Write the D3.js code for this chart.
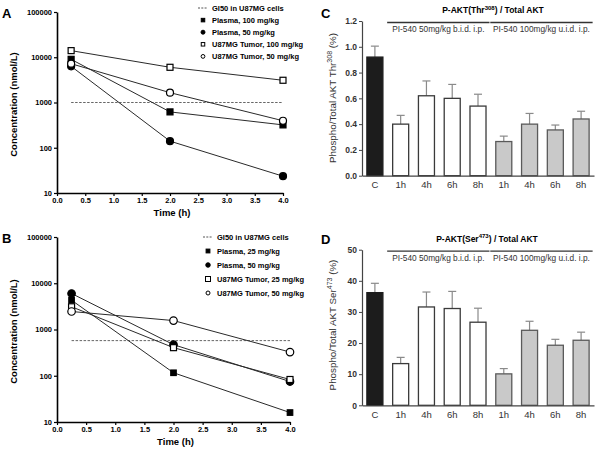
<!DOCTYPE html>
<html><head><meta charset="utf-8">
<script src="https://cdn.jsdelivr.net/npm/d3@7"></script>
<style>body{margin:0;background:#fff}svg{display:block;font-family:"Liberation Sans",Arial,sans-serif}</style>
</head><body>
<svg id="c" width="600" height="454"></svg>
<script>
// ---------- Data ----------
const timesPK = [0.25, 2.0, 4.0];
// Panel A
const aPlasma100 = [9000, 620, 320];
const aPlasma50 = [6300, 140, 23.5];
const aTumor100 = [14000, 6000, 3100];
const aTumor50 = [7200, 1650, 395];
const aGI50 = 1000;
const aLegend = ["GI50 in U87MG cells", "Plasma, 100 mg/kg", "Plasma, 50 mg/kg", "U87MG Tumor, 100 mg/kg", "U87MG Tumor, 50 mg/kg"];
// Panel B
const bPlasma25 = [4300, 116, 16];
const bPlasma50 = [6000, 470, 75];
const bTumor25 = [3100, 405, 83];
const bTumor50 = [2450, 1560, 325];
const bGI50 = 575;
const bLegend = ["GI50 in U87MG cells", "Plasma, 25 mg/kg", "Plasma, 50 mg/kg", "U87MG Tumor, 25 mg/kg", "U87MG Tumor, 50 mg/kg"];
const logTicks = [10, 100, 1000, 10000, 100000];
const timeTicks = [0, 0.5, 1, 1.5, 2, 2.5, 3, 3.5, 4];
// Panels C, D
const barCats = ["C", "1h", "4h", "6h", "8h", "1h", "4h", "6h", "8h"];
const barGroup = ["ctrl", "bid", "bid", "bid", "bid", "uid", "uid", "uid", "uid"];
const cValues = [0.92, 0.40, 0.62, 0.60, 0.54, 0.265, 0.40, 0.355, 0.44];
const cErrors = [0.085, 0.068, 0.115, 0.108, 0.092, 0.042, 0.083, 0.038, 0.06];
const dValues = [36.2, 13.4, 31.6, 31.1, 26.7, 10.1, 24.1, 19.3, 20.9];
const dErrors = [3.0, 2.0, 4.8, 5.5, 4.5, 1.7, 2.9, 1.9, 2.6];
const cTicks = [0, 0.2, 0.4, 0.6, 0.8, 1.0, 1.2];
const dTicks = [0, 10, 20, 30, 40, 50];
const groupLabels = ["PI-540 50mg/kg b.i.d. i.p.", "PI-540 100mg/kg u.i.d. i.p."];

const svg = d3.select("#c");

function letter(x, y, t) {
  svg.append("text").attr("x", x).attr("y", y).attr("font-size", 13).attr("font-weight", "bold").text(t);
}

function marker(g, type, x, y, size, sw) {
  sw = sw || 1.2;
  if (type === "fsq" || type === "osq") {
    g.append("rect").attr("x", x - size / 2).attr("y", y - size / 2).attr("width", size).attr("height", size)
      .attr("fill", type === "fsq" ? "#000" : "#fff").attr("stroke", "#000").attr("stroke-width", sw);
  } else {
    g.append("circle").attr("cx", x).attr("cy", y).attr("r", size / 2)
      .attr("fill", type === "fci" ? "#000" : "#fff").attr("stroke", "#000").attr("stroke-width", sw);
  }
}

function pkPanel(opt) {
  const g = svg.append("g");
  const x = d3.scaleLinear().domain([0, 4]).range([opt.x0, opt.x1]);
  const y = d3.scaleLog().domain([10, 100000]).range([opt.y0, opt.y1]);
  const yAx = g.append("g").attr("transform", `translate(${opt.x0},0)`)
    .call(d3.axisLeft(y).tickValues(logTicks).tickFormat(d3.format("d")).tickSize(3).tickSizeOuter(0));
  const xAx = g.append("g").attr("transform", `translate(0,${opt.y0})`)
    .call(d3.axisBottom(x).tickValues(timeTicks).tickFormat(d3.format(".1f")).tickSize(3).tickSizeOuter(0));
  [yAx, xAx].forEach(a => {
    a.select(".domain").attr("stroke-width", 1.6);
    a.selectAll("line").attr("stroke-width", 1.2);
    a.selectAll("text").attr("font-size", 7.5).attr("font-weight", "bold").attr("font-family", "Liberation Sans, Arial");
  });
  yAx.selectAll("text").attr("x", -5);
  xAx.selectAll("text").attr("y", 5);
  // GI50
  g.append("line").attr("x1", x(0.25)).attr("x2", x(4)).attr("y1", y(opt.gi50)).attr("y2", y(opt.gi50))
    .attr("stroke", "#666").attr("stroke-width", 1).attr("stroke-dasharray", "2.5,1.5");
  const line = d3.line().x((d, i) => x(timesPK[i])).y(d => y(d));
  opt.series.forEach(s => {
    g.append("path").attr("d", line(s.v)).attr("fill", "none").attr("stroke", "#2a2a2a").attr("stroke-width", 1);
  });
  opt.series.forEach(s => {
    s.v.forEach((d, i) => marker(g, s.type, x(timesPK[i]), y(d), s.size));
  });
  // axis titles
  g.append("text").attr("x", (opt.x0 + opt.x1) / 2 + 2).attr("y", opt.y0 + 23).attr("text-anchor", "middle")
    .attr("font-size", 9.5).attr("font-weight", "bold").text("Time (h)");
  g.append("text").attr("transform", `translate(17,${(opt.y0 + opt.y1) / 2 + 2}) rotate(-90)`).attr("text-anchor", "middle")
    .attr("font-size", 9.5).attr("font-weight", "bold").text("Concentration (nmol/L)");
  // legend
  const lg = g.append("g");
  opt.legend.forEach((t, i) => {
    const ly = opt.ly + i * opt.ldy;
    if (i === 0) {
      lg.append("line").attr("x1", opt.lx - 5).attr("x2", opt.lx + 4).attr("y1", ly).attr("y2", ly)
        .attr("stroke", "#555").attr("stroke-dasharray", "2,1.3");
    } else {
      marker(lg, opt.series[i - 1].type, opt.lx, ly, opt.series[i - 1].lsize, 1);
    }
    lg.append("text").attr("x", opt.lx + opt.ltx).attr("y", ly + 2.8).attr("font-size", 7.5).attr("font-weight", "bold").text(t);
  });
}

pkPanel({
  x0: 57, x1: 283, y0: 193, y1: 12, gi50: aGI50, legend: aLegend, lx: 203, ly: 8, ldy: 12.1, ltx: 9,
  series: [
    {v: aPlasma100, type: "fsq", size: 6, lsize: 3.5},
    {v: aPlasma50, type: "fci", size: 7, lsize: 4},
    {v: aTumor100, type: "osq", size: 6, lsize: 3.5},
    {v: aTumor50, type: "oci", size: 7, lsize: 3.8}
  ]
});
pkPanel({
  x0: 57, x1: 290, y0: 422, y1: 237, gi50: bGI50, legend: bLegend, lx: 208, ly: 237, ldy: 14, ltx: 9,
  series: [
    {v: bPlasma25, type: "fsq", size: 5.5, lsize: 3.8},
    {v: bPlasma50, type: "fci", size: 7.5, lsize: 4.5},
    {v: bTumor25, type: "osq", size: 6, lsize: 5},
    {v: bTumor50, type: "oci", size: 7.5, lsize: 4}
  ]
});

function barPanel(opt) {
  const g = svg.append("g");
  const x = d3.scaleBand().domain(d3.range(barCats.length)).range([362, 594]).paddingInner(0.34).paddingOuter(0.17);
  const y = d3.scaleLinear().domain(opt.domain).range([opt.y0, opt.y1]);
  const fills = {ctrl: "#1c1c1c", bid: "#ffffff", uid: "#c9c9c9"};
  const strokes = {ctrl: "#1c1c1c", bid: "#3a3a3a", uid: "#5a5a5a"};
  // error bars
  opt.values.forEach((v, i) => {
    const cx = x(i) + x.bandwidth() / 2;
    g.append("line").attr("x1", cx).attr("x2", cx).attr("y1", y(v)).attr("y2", y(v + opt.errors[i])).attr("stroke", "#8a8a8a").attr("stroke-width", 1.2);
    g.append("line").attr("x1", cx - 4).attr("x2", cx + 4).attr("y1", y(v + opt.errors[i])).attr("y2", y(v + opt.errors[i])).attr("stroke", "#8a8a8a").attr("stroke-width", 1.2);
  });
  g.selectAll("rect.bar").data(opt.values).join("rect")
    .attr("x", (d, i) => x(i) + 0.5).attr("width", x.bandwidth() - 1)
    .attr("y", d => y(d)).attr("height", d => y(opt.domain[0]) - y(d))
    .attr("fill", (d, i) => fills[barGroup[i]]).attr("stroke", (d, i) => strokes[barGroup[i]]).attr("stroke-width", 1.3);
  const yAx = g.append("g").attr("transform", "translate(362,0)")
    .call(d3.axisLeft(y).tickValues(opt.ticks).tickFormat(opt.fmt).tickSize(3).tickSizeOuter(0));
  yAx.select(".domain").attr("stroke", "#444").attr("stroke-width", 1.2);
  yAx.selectAll("line").attr("stroke", "#444");
  yAx.selectAll("text").attr("font-size", 8.5).attr("font-weight", "bold").attr("fill", "#333").attr("x", -5).attr("font-family", "Liberation Sans, Arial");
  const xAx = g.append("g").attr("transform", `translate(0,${opt.y0})`)
    .call(d3.axisBottom(x).tickFormat(i => barCats[i]).tickSize(0).tickSizeOuter(0));
  xAx.select(".domain").attr("stroke", "#444").attr("stroke-width", 1.2);
  xAx.selectAll("text").attr("font-size", 9.5).attr("fill", "#333").attr("y", 6).attr("font-family", "Liberation Sans, Arial");
  // title
  const tt = g.append("text").attr("x", opt.tx).attr("y", opt.y1 - 8).attr("text-anchor", "middle").attr("font-size", 8.5).attr("font-weight", "bold");
  tt.append("tspan").text(opt.titleA);
  tt.append("tspan").attr("font-size", 6).attr("dy", -3.5).text(opt.titleSup);
  tt.append("tspan").attr("dy", 3.5).text(opt.titleB);
  // group lines
  const ly = opt.y1 + 1.5;
  [[1, 4], [5, 8]].forEach((r, k) => {
    const a = x(r[0]) - 5, b = x(r[1]) + x.bandwidth() + 3;
    g.append("line").attr("x1", a).attr("x2", b).attr("y1", ly).attr("y2", ly).attr("stroke", "#333").attr("stroke-width", 1.3);
    g.append("text").attr("x", (a + b) / 2).attr("y", ly + 9.5).attr("text-anchor", "middle").attr("font-size", 8.3).attr("fill", "#333").text(groupLabels[k]);
  });
  // y label
  const yl = g.append("text").attr("transform", `translate(336,${opt.ylc}) rotate(-90)`).attr("text-anchor", "middle")
    .attr("font-size", 9.8).attr("fill", "#333");
  yl.append("tspan").text(opt.ylA);
  yl.append("tspan").attr("font-size", 7).attr("dy", -4).text(opt.ylSup);
  yl.append("tspan").attr("dy", 4).text(" (%)");
}

barPanel({
  domain: [0, 1.2], y0: 175.7, y1: 21, values: cValues, errors: cErrors, ticks: cTicks, fmt: d3.format(".1f"),
  tx: 493, titleA: "P-AKT(Thr", titleSup: "308", titleB: ") / Total AKT", ylA: "Phospho/Total AKT Thr", ylSup: "308", ylc: 98
});
barPanel({
  domain: [0, 50], y0: 405.3, y1: 249.7, values: dValues, errors: dErrors, ticks: dTicks, fmt: d3.format("d"),
  tx: 487, titleA: "P-AKT(Ser", titleSup: "473", titleB: ") / Total AKT", ylA: "Phospho/Total AKT Ser", ylSup: "473", ylc: 325
});

letter(2, 18, "A");
letter(2, 243, "B");
letter(321, 18, "C");
letter(321, 244, "D");
</script>
</body></html>
